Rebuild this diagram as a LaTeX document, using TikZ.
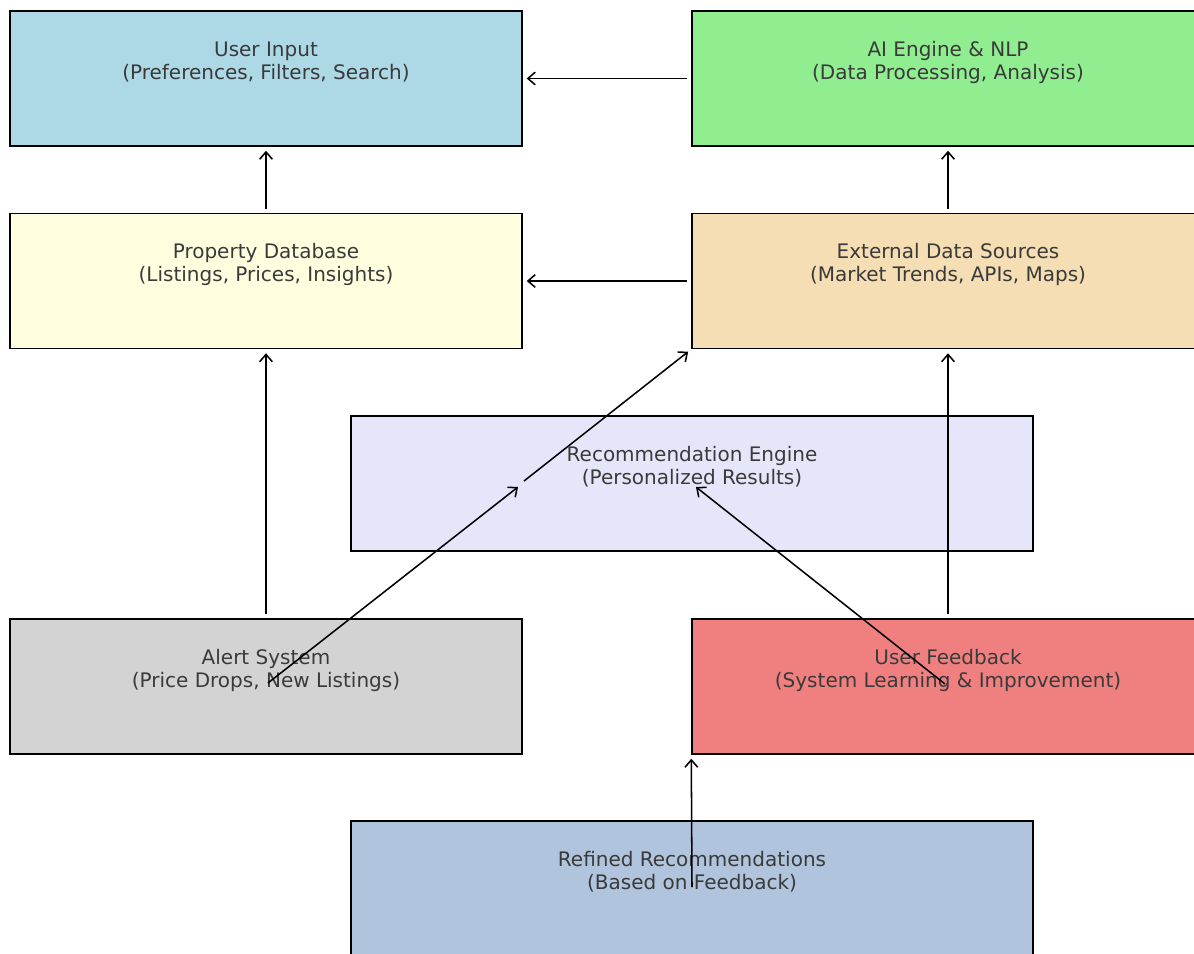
\documentclass[tikz,border=0pt]{standalone}
\usepackage{fontspec}
\setmainfont{DejaVu Sans}
\usetikzlibrary{arrows.meta}
\definecolor{cUI}{HTML}{ADD8E6}
\definecolor{cAI}{HTML}{90EE90}
\definecolor{cPD}{HTML}{FFFFE0}
\definecolor{cEX}{HTML}{F5DEB3}
\definecolor{cRE}{HTML}{E6E6FA}
\definecolor{cAL}{HTML}{D3D3D3}
\definecolor{cFB}{HTML}{F08080}
\definecolor{cRF}{HTML}{B0C4DE}
\definecolor{txt}{HTML}{3A3A3A}
\tikzset{
  box/.style={draw=black, line width=1.1pt, minimum width=384pt, minimum height=101.25pt, inner sep=0pt},
  wbox/.style={box, minimum width=511.5pt},
  lbl/.style={align=center, text=txt, font=\fontsize{15}{17.25}\selectfont, inner sep=0pt},
  arr/.style={draw=black, line width=1.15pt, -{Straight Barb[length=5.5pt,width=9.5pt,line width=1.15pt]}}
}
\begin{document}
\begin{tikzpicture}[x=0.75pt,y=-0.75pt]
\useasboundingbox (0,0) rectangle (1194,953);
\clip (0,0) rectangle (1194,953);
\fill[white] (0,0) rectangle (1194,953);
% boxes
\node[box, fill=cUI] (ui) at (266,78.5) {};
\node[box, fill=cAI] (ai) at (948,78.5) {};
\node[box, fill=cPD] (pd) at (266,281) {};
\node[box, fill=cEX] (ex) at (948,281) {};
\node[wbox, fill=cRE] (re) at (692,483.5) {};
\node[box, fill=cAL] (al) at (266,686.5) {};
\node[box, fill=cFB] (fb) at (948,686.5) {};
\node[wbox, fill=cRF] (rf) at (692,888.5) {};
% labels
\node[lbl] (tui) at (266,62) {User Input\\(Preferences, Filters, Search)};
\node[lbl] (tai) at (948,62) {AI Engine \& NLP\\(Data Processing, Analysis)};
\node[lbl] (tpd) at (266,264) {Property Database\\(Listings, Prices, Insights)};
\node[lbl] (tex) at (948,264) {External Data Sources\\(Market Trends, APIs, Maps)};
\node[lbl] (tre) at (692,467) {Recommendation Engine\\(Personalized Results)};
\node[lbl] (tal) at (266,670) {Alert System\\(Price Drops, New Listings)};
\node[lbl] (tfb) at (948,670) {User Feedback\\(System Learning \& Improvement)};
\node[lbl] (trf) at (692,872) {Refined Recommendations\\(Based on Feedback)};
% free ends
\coordinate (alS) at (268,683);
\coordinate (reA) at (518,487);
\coordinate (reS) at (524,481);
\coordinate (fbS) at (945,684);
\coordinate (reB) at (696,487);
\coordinate (rfS) at (692,887);
% connectors
\draw[arr, shorten <=3pt, shorten >=3pt] (ai.west) -- (ui.east);
\draw[arr, shorten <=3pt, shorten >=3pt] (pd.north) -- (ui.south);
\draw[arr, shorten <=3pt, shorten >=3pt] (ex.north) -- (ai.south);
\draw[arr, shorten <=3pt, shorten >=3pt] (ex.west) -- (pd.east);
\draw[arr, shorten <=3pt, shorten >=3pt] (al.north) -- (pd.south);
\draw[arr, shorten <=3pt, shorten >=3pt] (fb.north) -- (ex.south);
\draw[arr] (alS) -- (reA);
\draw[arr, shorten >=3pt] (reS) -- (ex.south west);
\draw[arr] (fbS) -- (reB);
\draw[arr, shorten >=3pt] (rfS) -- (fb.south west);
\end{tikzpicture}
\end{document}
